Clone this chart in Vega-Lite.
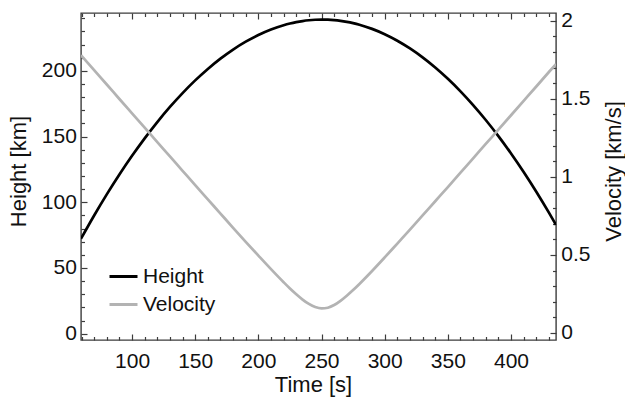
{
  "$schema": "https://vega.github.io/schema/vega-lite/v6.json",
  "width": 475,
  "height": 327,
  "autosize": {"type": "none"},
  "padding": {"left": 81, "top": 13, "right": 69, "bottom": 58},
  "background": "white",
  "config": {
    "font": "Liberation Sans",
    "view": {"stroke": "#3c3c3c", "strokeWidth": 1.4},
    "axis": {
      "domain": false,
      "grid": false,
      "tickColor": "#3c3c3c",
      "tickWidth": 1.2,
      "labelColor": "#111111",
      "titleColor": "#111111",
      "labelFont": "Liberation Sans",
      "titleFont": "Liberation Sans",
      "labelFontSize": 21,
      "titleFontSize": 22,
      "titleFontWeight": "normal"
    },
    "legend": {
      "labelFont": "Liberation Sans",
      "labelFontSize": 21,
      "labelColor": "#111111"
    }
  },
  "data": {
    "values": [
      {"t": 59.6, "h": 72.29, "v": 1.780},
      {"t": 70, "h": 89.94, "v": 1.684},
      {"t": 80, "h": 105.99, "v": 1.592},
      {"t": 90, "h": 121.12, "v": 1.499},
      {"t": 100, "h": 135.34, "v": 1.407},
      {"t": 110, "h": 148.64, "v": 1.315},
      {"t": 120, "h": 161.03, "v": 1.223},
      {"t": 130, "h": 172.51, "v": 1.131},
      {"t": 140, "h": 183.07, "v": 1.039},
      {"t": 150, "h": 192.73, "v": 0.947},
      {"t": 160, "h": 201.46, "v": 0.856},
      {"t": 170, "h": 209.29, "v": 0.765},
      {"t": 180, "h": 216.20, "v": 0.674},
      {"t": 190, "h": 222.20, "v": 0.584},
      {"t": 200, "h": 227.28, "v": 0.496},
      {"t": 210, "h": 231.45, "v": 0.409},
      {"t": 220, "h": 234.71, "v": 0.325},
      {"t": 225, "h": 235.99, "v": 0.285},
      {"t": 230, "h": 237.05, "v": 0.248},
      {"t": 235, "h": 237.88, "v": 0.214},
      {"t": 240, "h": 238.48, "v": 0.186},
      {"t": 245, "h": 238.85, "v": 0.166},
      {"t": 250, "h": 239.00, "v": 0.157},
      {"t": 255, "h": 238.91, "v": 0.162},
      {"t": 260, "h": 238.60, "v": 0.179},
      {"t": 265, "h": 238.06, "v": 0.206},
      {"t": 270, "h": 237.29, "v": 0.239},
      {"t": 275, "h": 236.29, "v": 0.275},
      {"t": 280, "h": 235.07, "v": 0.314},
      {"t": 290, "h": 231.93, "v": 0.397},
      {"t": 300, "h": 227.88, "v": 0.484},
      {"t": 310, "h": 222.92, "v": 0.573},
      {"t": 320, "h": 217.04, "v": 0.662},
      {"t": 330, "h": 210.25, "v": 0.753},
      {"t": 340, "h": 202.55, "v": 0.844},
      {"t": 350, "h": 193.93, "v": 0.935},
      {"t": 360, "h": 184.40, "v": 1.027},
      {"t": 370, "h": 173.96, "v": 1.119},
      {"t": 380, "h": 162.60, "v": 1.211},
      {"t": 390, "h": 150.33, "v": 1.303},
      {"t": 400, "h": 137.14, "v": 1.395},
      {"t": 410, "h": 123.05, "v": 1.487},
      {"t": 420, "h": 108.04, "v": 1.579},
      {"t": 430, "h": 92.11, "v": 1.672},
      {"t": 435.6, "h": 82.80, "v": 1.723}
    ]
  },
  "layer": [
    {
      "mark": {"type": "line", "strokeWidth": 2.7, "interpolate": "monotone", "clip": true},
      "encoding": {
        "x": {
          "field": "t", "type": "quantitative",
          "scale": {"domain": [59.6, 435.6], "nice": false, "zero": false},
          "axis": {
            "orient": "bottom", "title": "Time [s]", "ticks": false,
            "values": [100, 150, 200, 250, 300, 350, 400],
            "labelPadding": 10,
            "titleX": 232, "titleY": 51, "titleAlign": "center", "titleBaseline": "alphabetic"
          }
        },
        "y": {
          "field": "h", "type": "quantitative",
          "scale": {"domain": [-4.8, 244], "nice": false, "zero": false},
          "axis": {
            "orient": "left", "title": "Height [km]", "ticks": false,
            "values": [0, 50, 100, 150, 200],
            "labelPadding": 4.6,
            "titleAngle": 270, "titleX": -56, "titleY": 158, "titleAlign": "center", "titleBaseline": "alphabetic"
          }
        },
        "color": {
          "datum": "Height",
          "scale": {"domain": ["Height", "Velocity"], "range": ["#000000", "#b3b3b3"]},
          "legend": {
            "title": null, "orient": "none", "legendX": 27, "legendY": 248,
            "symbolType": "stroke", "symbolSize": 784, "symbolStrokeWidth": 3,
            "labelOffset": 4, "rowPadding": 2, "padding": 0
          }
        }
      }
    },
    {
      "mark": {"type": "line", "strokeWidth": 2.7, "interpolate": "monotone", "clip": true},
      "encoding": {
        "x": {
          "field": "t", "type": "quantitative",
          "axis": {
            "orient": "top", "title": null, "labels": false,
            "values": [100, 150, 200, 250, 300, 350, 400],
            "offset": -6, "tickSize": 6
          }
        },
        "y": {
          "field": "v", "type": "quantitative",
          "scale": {"domain": [-0.045, 2.05], "nice": false, "zero": false},
          "axis": {
            "orient": "right", "title": "Velocity [km/s]", "ticks": false,
            "values": [0, 0.5, 1, 1.5, 2], "format": "~g",
            "labelPadding": 4.7,
            "titleAngle": 270, "titleX": 64, "titleY": 158, "titleAlign": "center", "titleBaseline": "alphabetic"
          }
        },
        "color": {"datum": "Velocity"}
      }
    },
    {
      "mark": {"type": "line", "strokeOpacity": 0},
      "encoding": {
        "x": {
          "field": "t", "type": "quantitative",
          "axis": {
            "orient": "bottom", "title": null, "labels": false,
            "values": [100, 150, 200, 250, 300, 350, 400],
            "offset": -6, "tickSize": 6
          }
        },
        "y": {
          "field": "h", "type": "quantitative",
          "scale": {"domain": [-4.8, 244], "nice": false, "zero": false},
          "axis": {
            "orient": "left", "title": null, "labels": false,
            "values": [0, 50, 100, 150, 200],
            "offset": -6, "tickSize": 6
          }
        }
      }
    },
    {
      "mark": {"type": "line", "strokeOpacity": 0},
      "encoding": {
        "x": {
          "field": "t", "type": "quantitative",
          "axis": {
            "orient": "bottom", "title": null, "labels": false,
            "values": [60, 70, 80, 90, 110, 120, 130, 140, 160, 170, 180, 190, 210, 220, 230, 240, 260, 270, 280, 290, 310, 320, 330, 340, 360, 370, 380, 390, 410, 420, 430],
            "offset": -3.5, "tickSize": 3.5
          }
        },
        "y": {
          "field": "v", "type": "quantitative",
          "scale": {"domain": [-0.045, 2.05], "nice": false, "zero": false},
          "axis": {
            "orient": "right", "title": null, "labels": false,
            "values": [0, 0.5, 1, 1.5, 2],
            "offset": -6, "tickSize": 6
          }
        }
      }
    },
    {
      "mark": {"type": "line", "strokeOpacity": 0},
      "encoding": {
        "x": {
          "field": "t", "type": "quantitative",
          "axis": {
            "orient": "top", "title": null, "labels": false,
            "values": [60, 70, 80, 90, 110, 120, 130, 140, 160, 170, 180, 190, 210, 220, 230, 240, 260, 270, 280, 290, 310, 320, 330, 340, 360, 370, 380, 390, 410, 420, 430],
            "offset": -3.5, "tickSize": 3.5
          }
        },
        "y": {
          "field": "h", "type": "quantitative",
          "scale": {"domain": [-4.8, 244], "nice": false, "zero": false},
          "axis": {
            "orient": "left", "title": null, "labels": false,
            "values": [10, 20, 30, 40, 60, 70, 80, 90, 110, 120, 130, 140, 160, 170, 180, 190, 210, 220, 230, 240],
            "offset": -3.5, "tickSize": 3.5
          }
        }
      }
    },
    {
      "mark": {"type": "line", "strokeOpacity": 0},
      "encoding": {
        "x": {"field": "t", "type": "quantitative", "axis": null},
        "y": {
          "field": "v", "type": "quantitative",
          "scale": {"domain": [-0.045, 2.05], "nice": false, "zero": false},
          "axis": {
            "orient": "right", "title": null, "labels": false,
            "values": [0.1, 0.2, 0.3, 0.4, 0.6, 0.7, 0.8, 0.9, 1.1, 1.2, 1.3, 1.4, 1.6, 1.7, 1.8, 1.9],
            "offset": -3.5, "tickSize": 3.5
          }
        }
      }
    }
  ],
  "resolve": {
    "scale": {"y": "independent", "x": "shared"},
    "axis": {"x": "independent", "y": "independent"}
  }
}
